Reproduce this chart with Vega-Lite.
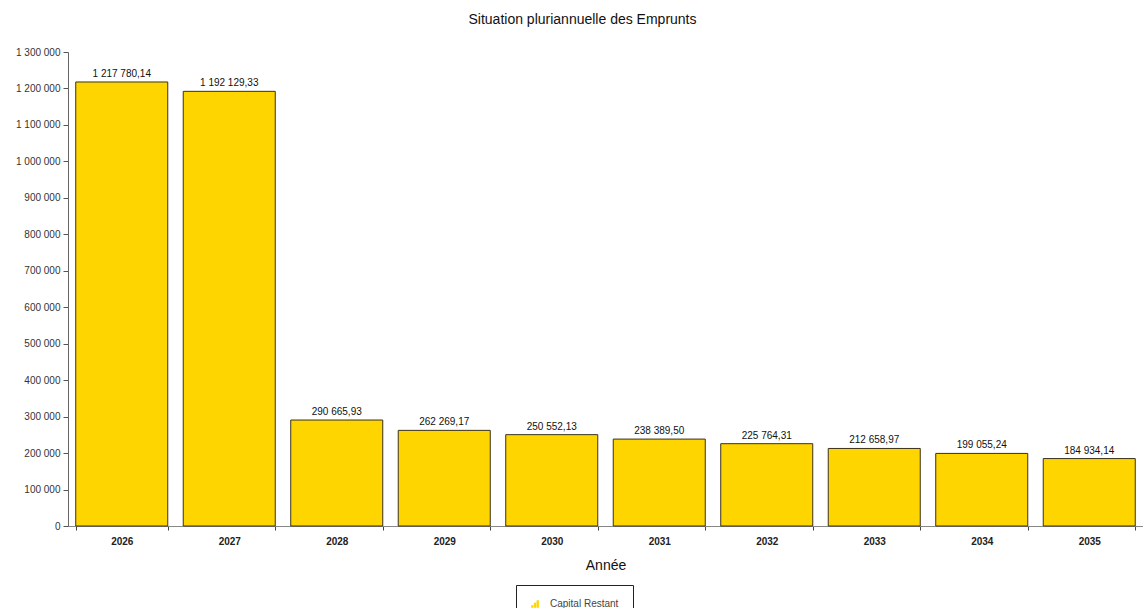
{
  "$schema": "https://vega.github.io/schema/vega-lite/v6.json",
  "autosize": "none",
  "padding": {"left": 68, "top": 52, "right": 0, "bottom": 82},
  "width": 1075,
  "height": 474,
  "background": "white",
  "config": {
    "font": "Liberation Sans",
    "locale": {"number": {"decimal": ",", "thousands": " ", "grouping": [3], "currency": ["", " €"]}},
    "view": {"stroke": null}
  },
  "title": {"text": "Situation pluriannuelle des Emprunts", "fontSize": 14, "fontWeight": "normal", "color": "#111", "offset": 20, "dx": -23},
  "data": {"values": [
    {"annee": "2026", "valeur": 1217780.14, "serie": "Capital Restant"},
    {"annee": "2027", "valeur": 1192129.33, "serie": "Capital Restant"},
    {"annee": "2028", "valeur": 290665.93, "serie": "Capital Restant"},
    {"annee": "2029", "valeur": 262269.17, "serie": "Capital Restant"},
    {"annee": "2030", "valeur": 250552.13, "serie": "Capital Restant"},
    {"annee": "2031", "valeur": 238389.50, "serie": "Capital Restant"},
    {"annee": "2032", "valeur": 225764.31, "serie": "Capital Restant"},
    {"annee": "2033", "valeur": 212658.97, "serie": "Capital Restant"},
    {"annee": "2034", "valeur": 199055.24, "serie": "Capital Restant"},
    {"annee": "2035", "valeur": 184934.14, "serie": "Capital Restant"}
  ]},
  "encoding": {
    "x": {"field": "annee", "type": "ordinal", "scale": {"paddingInner": 0.144, "paddingOuter": 0.072},
      "axis": {"title": "Année", "titleFontSize": 14, "titleFontWeight": "normal", "titleColor": "#111", "titlePadding": 12,
        "labelAngle": 0, "labelFontSize": 10, "labelFontWeight": "bold", "labelColor": "#222", "labelPadding": 6,
        "tickBand": "extent", "tickSize": 4, "tickColor": "#444", "domainColor": "#888"}},
    "y": {"field": "valeur", "type": "quantitative", "scale": {"domain": [0, 1300000], "nice": false},
      "axis": {"title": null, "values": [0,100000,200000,300000,400000,500000,600000,700000,800000,900000,1000000,1100000,1200000,1300000],
        "format": ",d", "labelFontSize": 10, "labelColor": "#333", "grid": false, "tickSize": 5, "tickColor": "#555", "domainColor": "#666", "labelPadding": 3}}
  },
  "layer": [
    {"mark": {"type": "bar", "stroke": "#3a3020", "strokeWidth": 1},
     "encoding": {
       "color": {"field": "serie", "type": "nominal", "scale": {"range": ["#FFD500"]},
         "legend": {"title": null, "orient": "none", "legendX": 448, "legendY": 533,
           "strokeColor": "#222", "padding": 14, "labelFontSize": 10, "labelColor": "#444", "labelOffset": 10,
           "symbolType": "M-1,1H-0.4V0.3H-1Z M-0.3,1H0.3V-0.3H-0.3Z M0.4,1H1V-1H0.4Z", "symbolSize": 60, "symbolStrokeWidth": 0}}
     }},
    {"mark": {"type": "text", "dy": -8, "fontSize": 10, "color": "#111"},
     "encoding": {"text": {"field": "valeur", "type": "quantitative", "format": ",.2f"}}}
  ]
}
